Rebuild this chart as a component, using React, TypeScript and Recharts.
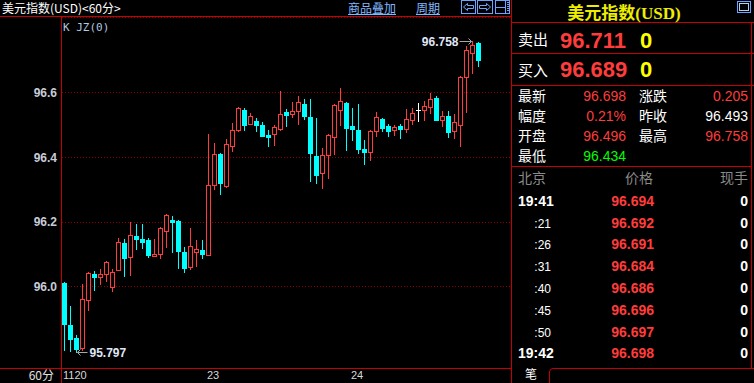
import React from "react";
import { ComposedChart, Bar, XAxis, YAxis, CartesianGrid } from "recharts";

// Hourly OHLC candles, USD index
const candleOpen = [
  96.010, 95.880, 95.840, 95.809, 95.958, 96.038, 96.029, 96.038, 95.998, 96.050,
  96.134, 96.091, 96.156, 96.146, 96.143, 96.094, 96.100, 96.171, 96.205, 96.202,
  96.106, 96.060, 96.106, 96.112, 96.097, 96.313, 96.409, 96.310, 96.434, 96.483,
  96.545, 96.502, 96.511, 96.499, 96.468, 96.471, 96.487, 96.539, 96.533, 96.542,
  96.564, 96.523, 96.403, 96.350, 96.406, 96.462, 96.545, 96.567, 96.496, 96.484,
  96.425, 96.415, 96.480, 96.517, 96.496, 96.483, 96.496, 96.487, 96.514, 96.545,
  96.545, 96.555, 96.582, 96.514, 96.526, 96.480, 96.499, 96.647, 96.721, 96.752,
];
const candleHigh = [
  96.012, 95.939, 95.849, 96.007, 96.043, 96.047, 96.054, 96.078, 96.054, 96.149,
  96.146, 96.199, 96.193, 96.193, 96.149, 96.146, 96.182, 96.224, 96.217, 96.204,
  96.122, 96.180, 96.143, 96.143, 96.471, 96.443, 96.411, 96.456, 96.505, 96.553,
  96.551, 96.536, 96.520, 96.508, 96.483, 96.499, 96.604, 96.548, 96.570, 96.589,
  96.579, 96.579, 96.520, 96.428, 96.470, 96.563, 96.613, 96.570, 96.551, 96.564,
  96.453, 96.482, 96.539, 96.520, 96.502, 96.499, 96.502, 96.548, 96.551, 96.567,
  96.573, 96.598, 96.589, 96.542, 96.542, 96.533, 96.650, 96.743, 96.758, 96.754,
];
const candleLow = [
  95.801, 95.800, 95.797, 95.802, 95.927, 95.989, 96.007, 96.017, 95.985, 96.048,
  96.032, 96.035, 96.115, 96.118, 96.091, 96.093, 96.088, 96.122, 96.106, 96.057,
  96.044, 96.054, 96.063, 96.088, 96.095, 96.301, 96.285, 96.307, 96.418, 96.480,
  96.483, 96.500, 96.480, 96.463, 96.434, 96.437, 96.483, 96.496, 96.523, 96.502,
  96.517, 96.326, 96.320, 96.304, 96.335, 96.409, 96.499, 96.422, 96.453, 96.412,
  96.378, 96.391, 96.465, 96.480, 96.465, 96.468, 96.459, 96.477, 96.502, 96.511,
  96.514, 96.536, 96.513, 96.496, 96.462, 96.459, 96.434, 96.539, 96.660, 96.681,
];
const candleClose = [
  95.883, 95.837, 95.806, 95.961, 96.041, 96.029, 96.038, 96.075, 96.044, 96.137,
  96.088, 96.159, 96.146, 96.137, 96.097, 96.100, 96.180, 96.220, 96.199, 96.109,
  96.057, 96.125, 96.115, 96.100, 96.313, 96.409, 96.320, 96.440, 96.483, 96.551,
  96.499, 96.526, 96.499, 96.465, 96.462, 96.493, 96.533, 96.530, 96.542, 96.570,
  96.526, 96.412, 96.344, 96.406, 96.468, 96.561, 96.573, 96.490, 96.487, 96.425,
  96.415, 96.480, 96.523, 96.490, 96.480, 96.493, 96.487, 96.517, 96.536, 96.545,
  96.557, 96.579, 96.514, 96.526, 96.477, 96.508, 96.647, 96.731, 96.746, 96.698,
];

// Day separators on the time axis
const dayTickIndex = [0, 24, 48];
const dayTickText = ["1120", "23", "24"];

// Price axis
const priceTicks = [96.0, 96.2, 96.4, 96.6];
const priceDomain = [95.748, 96.8335];

// Quote panel
const quoteTitle = "美元指数(USD)";
const bookLabels = ["卖出", "买入"];
const bookPrices = ["96.711", "96.689"];
const bookVolumes = ["0", "0"];
const prevClose = 96.493;
const statLeftLabels = ["最新", "幅度", "开盘", "最低"];
const statLeftValues = [96.698, 0.21, 96.496, 96.434];
const statRightLabels = ["涨跌", "昨收", "最高"];
const statRightValues = [0.205, 96.493, 96.758];
const tradeHeader = ["北京", "价格", "现手"];
const tradeTimes = ["19:41", ":21", ":26", ":31", ":40", ":45", ":50", "19:42"];
const tradePrices = [96.694, 96.692, 96.691, 96.684, 96.686, 96.696, 96.697, 96.698];
const tradeVolumes = [0, 0, 0, 0, 0, 0, 0, 0];

const data = candleOpen.map((open, idx) => ({
  idx,
  open,
  high: candleHigh[idx],
  low: candleLow[idx],
  close: candleClose[idx],
  range: [candleLow[idx], candleHigh[idx]],
}));

const maxIdx = candleHigh.indexOf(Math.max(...candleHigh));
const minIdx = candleLow.indexOf(Math.min(...candleLow));

const RED = "#ff3c3c";
const CYAN = "#00ffff";
const FRAME = "#c40000";
const GRID = "#8c0000";
const LINK = "#80b8ff";
const ICON = "#6aa6ff";
const NUM = "'Liberation Sans', Arial, sans-serif";
const CJK = "'Noto Sans CJK SC', sans-serif";

function Candle(props: any) {
  const { x, y, height, payload } = props;
  if (!payload || height == null || y == null) return null;
  const { open, high, low, close, idx } = payload;
  const top = Math.min(y, y + height);
  const h = Math.abs(height);
  const px = (v: number) => top + ((high - v) / (high - low)) * h;
  const row = (v: number) => Math.floor(px(v));
  const bx = Math.round(x);
  const cx = bx + 2.5;
  const hi = row(high);
  const lo = row(low);
  const bTop = row(Math.max(open, close));
  const bBot = row(Math.min(open, close));
  const flat = open === close;
  const up = close > open;
  const color = flat ? "#ffffff" : up ? RED : CYAN;

  return (
    <g>
      <rect x={bx + 2} y={hi} width={1} height={lo - hi + 1} fill={color} />
      {flat ? (
        <rect x={bx} y={bTop} width={5} height={1} fill={color} />
      ) : up ? (
        <rect
          x={bx + 0.5}
          y={bTop + 0.5}
          width={4}
          height={Math.max(1, bBot - bTop)}
          fill="#000"
          stroke={color}
          strokeWidth={1}
        />
      ) : (
        <rect x={bx} y={bTop} width={5} height={Math.max(1, bBot - bTop + 1)} fill={color} />
      )}
      {idx === maxIdx && (
        <g>
          <line x1={cx - 13} x2={cx - 1} y1={hi + 0.5} y2={hi + 0.5} stroke="#a8a8a8" />
          <path d={`M${cx - 4} ${hi - 2.5} L${cx - 1} ${hi + 0.5} L${cx - 4} ${hi + 3.5}`} stroke="#a8a8a8" fill="none" />
          <text x={cx - 14} y={hi + 5} textAnchor="end" fontFamily={NUM} fontWeight="bold" fontSize={12} fill="#e0e8f8">
            {high.toFixed(3)}
          </text>
        </g>
      )}
      {idx === minIdx && (
        <g>
          <line x1={cx + 1} x2={cx + 11} y1={lo + 0.5} y2={lo + 0.5} stroke="#a8a8a8" />
          <path d={`M${cx + 4} ${lo - 2.5} L${cx + 1} ${lo + 0.5} L${cx + 4} ${lo + 3.5}`} stroke="#a8a8a8" fill="none" />
          <text x={cx + 13} y={lo + 5} textAnchor="start" fontFamily={NUM} fontWeight="bold" fontSize={12} fill="#e0e8f8">
            {low.toFixed(3)}
          </text>
        </g>
      )}
    </g>
  );
}

function PriceTick(props: any) {
  const { x, y, payload } = props;
  return (
    <text x={x} y={y + 4.5} textAnchor="end" fontFamily={NUM} fontWeight="bold" fontSize={12} fill="#c8ccd8">
      {Number(payload.value).toFixed(1)}
    </text>
  );
}

function DayTick(props: any) {
  const { x, y, payload } = props;
  const k = dayTickIndex.indexOf(payload.value);
  if (k < 0) return null;
  return (
    <text x={x - 2} y={y + 11} textAnchor="start" fontFamily={NUM} fontSize={11} fill="#d8d8d8">
      {dayTickText[k]}
    </text>
  );
}

function GridLine(p: any) {
  const yy = Math.floor(p.y1 + 0.4) + 0.5;
  return (
    <line
      key={`g-${p.index}`}
      x1={p.x1}
      x2={p.x2}
      y1={yy}
      y2={yy}
      stroke={GRID}
      strokeWidth={1}
      strokeDasharray="1 2"
    />
  );
}

const colorFor = (v: number) => (v > prevClose ? RED : v < prevClose ? "#00ff00" : "#ffffff");
const changeColor = (v: number) => (v > 0 ? RED : v < 0 ? "#00ff00" : "#ffffff");

function Frame() {
  const statRows = [101, 121, 141, 161];
  const tradeBase = 205.7;
  const tradeStep = 21.8;
  return (
    <svg width={754} height={383} style={{ position: "absolute", left: 0, top: 0 }}>
      {/* chart header */}
      <text x={2} y={13} fontFamily={CJK} fontSize={12} fill="#ffffff">
        美元指数(USD)&lt;60分&gt;
      </text>
      <text x={348} y={12.5} fontFamily={CJK} fontSize={12} fill={LINK}>商品叠加</text>
      <line x1={348} x2={396} y1={14.5} y2={14.5} stroke={LINK} />
      <text x={416} y={12.5} fontFamily={CJK} fontSize={12} fill={LINK}>周期</text>
      <line x1={416} x2={440} y1={14.5} y2={14.5} stroke={LINK} />

      {/* toolbar buttons */}
      <rect x={461.5} y={0.5} width={14} height={13} fill="none" stroke={ICON} />
      <path d="M463.5 7 L467.5 3.5 L467.5 5.5 L473.5 5.5 L473.5 8.5 L467.5 8.5 L467.5 10.5 Z" fill="none" stroke={ICON} />
      <rect x={477.5} y={0.5} width={15} height={13} fill="none" stroke={ICON} />
      <path d="M490.5 7 L486.5 3.5 L486.5 5.5 L479.5 5.5 L479.5 8.5 L486.5 8.5 L486.5 10.5 Z" fill="none" stroke={ICON} />
      <rect x={495.5} y={0.5} width={14} height={13} fill="none" stroke={ICON} />
      <line x1={495.5} x2={505} y1={7.5} y2={7.5} stroke={ICON} />
      <line x1={505.5} x2={505.5} y1={0.5} y2={13.5} stroke={ICON} />
      {[2.5, 4.5, 6.5, 8.5, 10.5].map((yy) => (
        <line key={yy} x1={507} x2={509} y1={yy} y2={yy} stroke={ICON} />
      ))}

      <text x={63} y={31} fontFamily="'DejaVu Sans Mono', monospace" fontSize={11} fill="#b0c8e0">
        K JZ(0)
      </text>

      {/* chart frame */}
      <line x1={0} x2={512} y1={16.5} y2={16.5} stroke={FRAME} />
      <line x1={0} x2={512} y1={368.5} y2={368.5} stroke={FRAME} />
      <line x1={61.5} x2={61.5} y1={16.5} y2={383} stroke={FRAME} />
      <text x={54} y={380} textAnchor="end" fontFamily={CJK} fontSize={12} fill="#e0e0e0">60分</text>

      {/* quote panel frame */}
      <line x1={511.5} x2={511.5} y1={0} y2={383} stroke={FRAME} />
      <line x1={751.5} x2={751.5} y1={22.5} y2={368.5} stroke={FRAME} />
      <line x1={511.5} x2={754} y1={22.5} y2={22.5} stroke={FRAME} />
      <line x1={511.5} x2={754} y1={53.5} y2={53.5} stroke={FRAME} />
      <line x1={511.5} x2={754} y1={85.5} y2={85.5} stroke={FRAME} />
      <line x1={511.5} x2={751.5} y1={166.5} y2={166.5} stroke={FRAME} />
      <path d="M754 368.5 H553 Q549.5 368.5 549.5 372 V383" fill="none" stroke={FRAME} />
      <text x={525} y={379} fontFamily={CJK} fontSize={12} fill="#ffffff">笔</text>

      <rect x={737.5} y={1.5} width={13} height={11} fill="none" stroke={ICON} />
      <rect x={739.5} y={3.5} width={9} height={7} fill="none" stroke="#a8d0ff" />

      <text x={624} y={18.5} textAnchor="middle" fontFamily={`'Liberation Serif', ${CJK}`} fontWeight="bold" fontSize={17} fill="#eeee00">
        {quoteTitle}
      </text>

      {bookLabels.map((lab, i) => (
        <g key={lab}>
          <text x={518} y={[44.5, 76][i]} fontFamily={CJK} fontSize={15} fill="#ffffff">{lab}</text>
          <text x={560} y={[48.3, 76.7][i]} fontFamily={NUM} fontWeight="bold" fontSize={22} fill={RED}>{bookPrices[i]}</text>
          <text x={640} y={[48.3, 76.7][i]} fontFamily={NUM} fontWeight="bold" fontSize={22} fill="#ffff00">{bookVolumes[i]}</text>
        </g>
      ))}

      {statLeftLabels.map((lab, i) => {
        const v = statLeftValues[i];
        const isPct = lab === "幅度";
        return (
          <g key={lab}>
            <text x={518} y={statRows[i]} fontFamily={CJK} fontSize={14} fill="#ffffff">{lab}</text>
            <text x={626} y={statRows[i]} textAnchor="end" fontFamily={NUM} fontSize={14} fill={isPct ? changeColor(v) : colorFor(v)}>
              {isPct ? `${v.toFixed(2)}%` : v.toFixed(3)}
            </text>
          </g>
        );
      })}
      {statRightLabels.map((lab, i) => {
        const v = statRightValues[i];
        const fill = lab === "涨跌" ? changeColor(v) : colorFor(v);
        return (
          <g key={lab}>
            <text x={639} y={statRows[i]} fontFamily={CJK} fontSize={14} fill="#ffffff">{lab}</text>
            <text x={748} y={statRows[i]} textAnchor="end" fontFamily={NUM} fontSize={14} fill={fill}>{v.toFixed(3)}</text>
          </g>
        );
      })}

      <text x={518} y={182.5} fontFamily={CJK} fontSize={14} fill="#8a8a8a">{tradeHeader[0]}</text>
      <text x={653} y={182.5} textAnchor="end" fontFamily={CJK} fontSize={14} fill="#8a8a8a">{tradeHeader[1]}</text>
      <text x={748} y={182.5} textAnchor="end" fontFamily={CJK} fontSize={14} fill="#8a8a8a">{tradeHeader[2]}</text>

      {tradeTimes.map((t, i) => {
        const yy = tradeBase + i * tradeStep;
        const full = t.length > 3;
        return (
          <g key={i}>
            <text
              x={full ? 518 : 551}
              y={yy}
              textAnchor={full ? "start" : "end"}
              fontFamily={NUM}
              fontWeight={full ? "bold" : "normal"}
              fontSize={full ? 14 : 12}
              fill="#ffffff"
            >
              {t}
            </text>
            <text x={654} y={yy} textAnchor="end" fontFamily={NUM} fontWeight="bold" fontSize={14} fill={colorFor(tradePrices[i])}>
              {tradePrices[i].toFixed(3)}
            </text>
            <text x={748} y={yy} textAnchor="end" fontFamily={NUM} fontWeight="bold" fontSize={14} fill="#ffffff">
              {tradeVolumes[i]}
            </text>
          </g>
        );
      })}
    </svg>
  );
}

export default function App() {
  return (
    <div style={{ position: "fixed", left: 0, top: 0, width: 754, height: 383, background: "#000", overflow: "hidden" }}>
      <div style={{ position: "absolute", left: 0, top: 0 }}>
        <ComposedChart
          width={754}
          height={383}
          data={data}
          margin={{ top: 17, right: 243, bottom: 0, left: 0 }}
          barCategoryGap={0}
          barGap={0}
        >
          <CartesianGrid vertical={false} horizontal={GridLine as any} />
          <XAxis
            dataKey="idx"
            type="category"
            ticks={dayTickIndex}
            interval={0}
            height={15}
            padding={{ left: 0, right: 29 }}
            axisLine={false}
            tickLine={false}
            tickSize={0}
            tickMargin={0}
            tick={<DayTick />}
          />
          <YAxis
            type="number"
            domain={priceDomain}
            ticks={priceTicks}
            allowDataOverflow
            width={62}
            axisLine={false}
            tickLine={false}
            tickSize={0}
            tickMargin={5}
            tick={<PriceTick />}
          />
          <Bar dataKey="range" shape={<Candle />} isAnimationActive={false} />
        </ComposedChart>
      </div>
      <Frame />
    </div>
  );
}
